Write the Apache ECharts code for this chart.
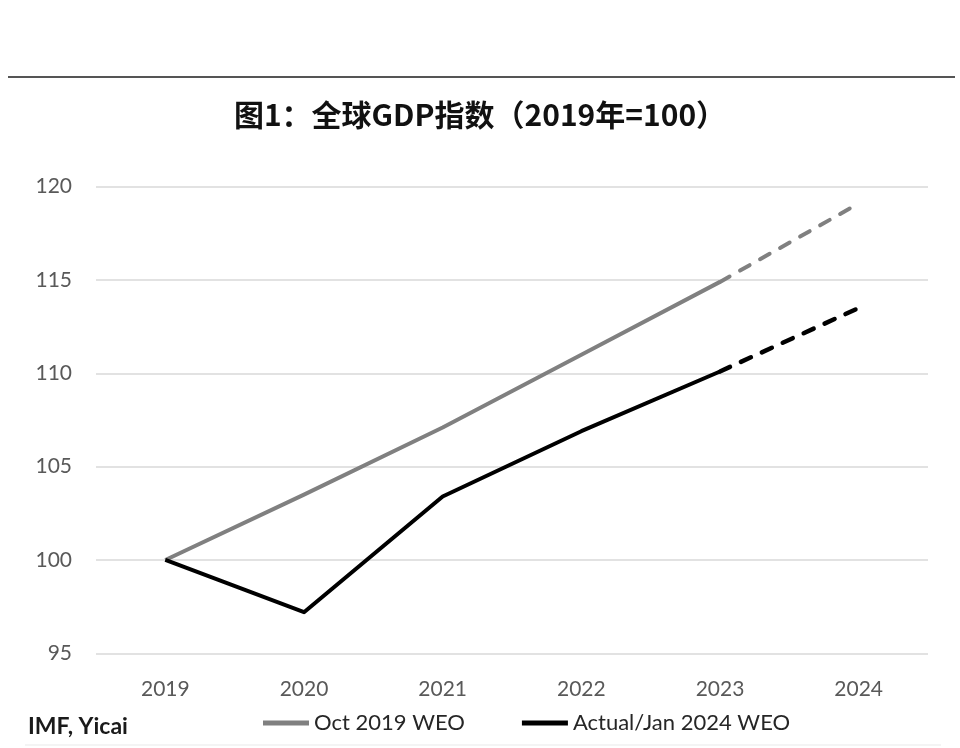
<!DOCTYPE html>
<html>
<head>
<meta charset="utf-8">
<script src="https://cdn.jsdelivr.net/npm/echarts@6/dist/echarts.min.js"></script>
<style>
html,body{margin:0;padding:0;background:#fff;}
#chart{width:960px;height:748px;}
</style>
</head>
<body>
<div id="chart"></div>
<script>
const years = ['2019', '2020', '2021', '2022', '2023', '2024'];
const oct2019WEO = [100, 103.5, 107.1, 111.0, 114.9, 119.1];
const actualJan2024WEO = [100, 97.2, 103.4, 106.9, 110.1, 113.5];
const forecastFrom = 4; // index of 2023: dashed segment starts here
const yMin = 95, yMax = 120, yStep = 5;

const seriesNames = ['Oct 2019 WEO', 'Actual/Jan 2024 WEO'];
const solidPart = arr => arr.map((v, i) => i <= forecastFrom ? v : '-');
const dashedPart = arr => arr.map((v, i) => i >= forecastFrom ? v : '-');

function lineSeries(name, data, color, width, dashed) {
  return {
    name: name,
    type: 'line',
    data: data,
    showSymbol: false,
    symbol: 'none',
    connectNulls: false,
    itemStyle: { color: color },
    lineStyle: {
      color: color,
      width: width,
      type: dashed ? [11, 12] : 'solid',
      cap: dashed ? 'round' : 'butt',
      join: 'round'
    },
    emphasis: { disabled: true },
    z: name === seriesNames[1] ? 3 : 2
  };
}

const chart = echarts.init(document.getElementById('chart'));
chart.setOption({
  backgroundColor: '#ffffff',
  animation: false,
  title: {
    text: '图1：全球GDP指数（2019年=100）',
    left: 'center',
    top: 96,
    padding: 0,
    textStyle: {
      fontFamily: 'Noto Sans CJK SC',
      fontWeight: 'bold',
      fontSize: 30,
      lineHeight: 38,
      color: '#111111'
    }
  },
  grid: { left: 96, right: 32, top: 186.7, bottom: 94.7, containLabel: false },
  xAxis: {
    type: 'category',
    data: years,
    boundaryGap: true,
    axisLine: { show: false },
    axisTick: { show: false },
    axisLabel: {
      margin: 25,
      fontFamily: 'Lato',
      fontSize: 21,
      color: '#595959'
    }
  },
  yAxis: {
    type: 'value',
    min: yMin,
    max: yMax,
    interval: yStep,
    axisLine: { show: false },
    axisTick: { show: false },
    axisLabel: {
      margin: 24,
      fontFamily: 'Lato',
      fontSize: 21,
      color: '#595959'
    },
    splitLine: { lineStyle: { color: '#d9d9d9', width: 1.5 } }
  },
  legend: {
    data: seriesNames,
    left: 263,
    top: 712,
    icon: 'rect',
    itemWidth: 46,
    itemHeight: 5,
    itemGap: 57,
    padding: 0,
    selectedMode: false,
    itemStyle: { borderWidth: 0 },
    textStyle: {
      fontFamily: 'Lato',
      fontSize: 22,
      lineHeight: 22,
      color: '#262626'
    }
  },
  graphic: [
    {
      type: 'line',
      shape: { x1: 8, y1: 77, x2: 955, y2: 77 },
      style: { stroke: '#555555', lineWidth: 2 }
    },
    {
      type: 'line',
      shape: { x1: 25, y1: 745, x2: 941, y2: 745 },
      style: { stroke: '#f0f0f0', lineWidth: 1.5 }
    },
    {
      type: 'text',
      left: 28,
      top: 715,
      style: {
        text: 'IMF, Yicai',
        fontFamily: 'Lato',
        fontWeight: 'bold',
        fontSize: 23,
        fill: '#1a1a1a'
      }
    }
  ],
  series: [
    lineSeries(seriesNames[0], solidPart(oct2019WEO), '#808080', 4, false),
    lineSeries(seriesNames[0], dashedPart(oct2019WEO), '#808080', 4, true),
    lineSeries(seriesNames[1], solidPart(actualJan2024WEO), '#000000', 4, false),
    lineSeries(seriesNames[1], dashedPart(actualJan2024WEO), '#000000', 4.5, true)
  ]
});
</script>
</body>
</html>
